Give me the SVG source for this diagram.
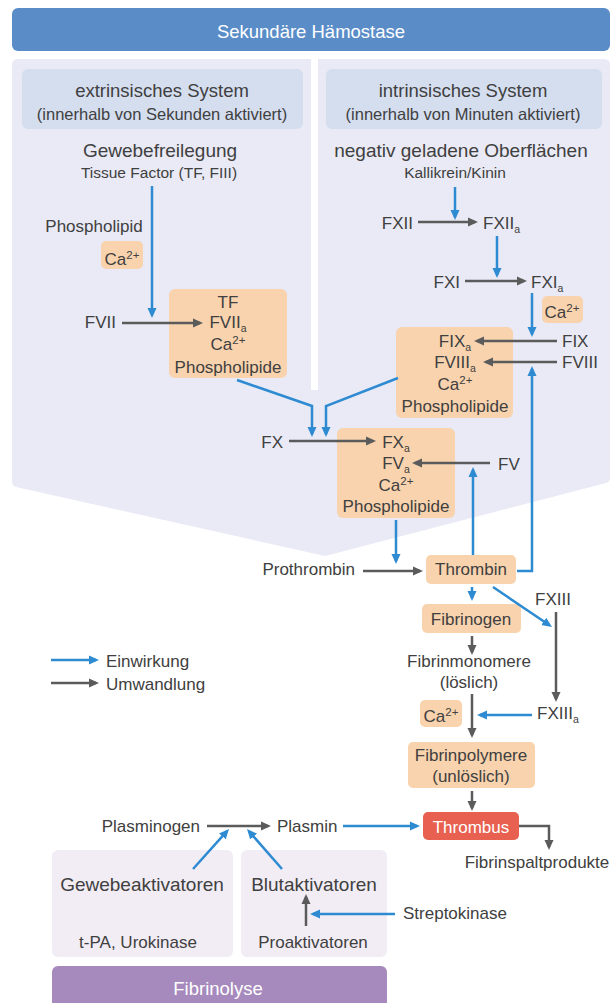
<svg xmlns="http://www.w3.org/2000/svg" width="613" height="1003" viewBox="0 0 613 1003">
<style>
.t{font-family:"Liberation Sans",Arial,sans-serif;fill:#404040;font-size:17px}
.m{text-anchor:middle}
.e{text-anchor:end}
.w{fill:#ffffff}
.sub{font-size:10.5px}
.sup{font-size:11.5px}
.big{font-size:19px}
.hd{font-size:18.5px}
.sm{font-size:15.5px}
.node{fill:#F9D3AE}
.hdr{fill:#D5DEEF}
.cb{fill:none;stroke:#2E8BD2;stroke-width:2.5;marker-end:url(#ab)}
.cg{fill:none;stroke:#5B5B5B;stroke-width:2.5;marker-end:url(#ag)}
</style>
<defs>
<marker id="ab" markerUnits="userSpaceOnUse" markerWidth="11" markerHeight="10" refX="7" refY="5" orient="auto"><path d="M0,0.5 L10,5 L0,9.5 z" fill="#2E8BD2"/></marker>
<marker id="ag" markerUnits="userSpaceOnUse" markerWidth="11" markerHeight="10" refX="7" refY="5" orient="auto"><path d="M0,0.5 L10,5 L0,9.5 z" fill="#5B5B5B"/></marker>
</defs>
<rect width="613" height="1003" fill="#ffffff"/>

<g id="banner">
<rect x="12" y="8" width="598" height="43" rx="6" fill="#5A8DC8"/>
<text class="t m hd w" x="311" y="38">Sekundäre Hämostase</text>
</g>

<g id="panels">
<path d="M18 59 H604 Q610 59 610 65 V478 Q610 482 606 483 L325 556 L16 487 Q12 486 12 481 V65 Q12 59 18 59 Z" fill="#E9EAF5"/>
<rect x="311" y="55" width="7" height="335" fill="#ffffff"/>
</g>

<g id="extrinsic-header">
<rect class="hdr" x="22" y="69" width="281" height="60" rx="6"/>
<text class="t m hd" x="162" y="97">extrinsisches System</text>
<text class="t m" x="162" y="120" style="font-size:16.5px">(innerhalb von Sekunden aktiviert)</text>
</g>
<g id="intrinsic-header">
<rect class="hdr" x="326" y="69" width="276" height="60" rx="6"/>
<text class="t m hd" x="463" y="97">intrinsisches System</text>
<text class="t m" x="463" y="120" style="font-size:16.5px">(innerhalb von Minuten aktiviert)</text>
</g>

<g id="gewebefreilegung">
<text class="t m big" x="160" y="157">Gewebefreilegung</text>
<text class="t m sm" x="159" y="178">Tissue Factor (TF, FIII)</text>
</g>
<g id="oberflaechen">
<text class="t m big" x="461" y="157">negativ geladene Oberflächen</text>
<text class="t m sm" x="455" y="178">Kallikrein/Kinin</text>
</g>

<g id="phospholipid"><text class="t m" x="94" y="232">Phospholipid</text></g>
<g id="ca-ext"><rect class="node" x="101" y="241" width="42" height="28" rx="5"/><text class="t m" x="122" y="265">Ca<tspan class="sup" dy="-6">2+</tspan></text></g>
<g id="fvii"><text class="t e" x="116" y="328">FVII</text></g>
<g id="tf-complex">
<rect class="node" x="169" y="289" width="118" height="89" rx="6"/>
<text class="t m" x="228" y="308">TF</text>
<text class="t m" x="228" y="328">FVII<tspan class="sub" dy="3.5">a</tspan></text>
<text class="t m" x="228" y="350">Ca<tspan class="sup" dy="-6">2+</tspan></text>
<text class="t m" x="228" y="373">Phospholipide</text>
</g>

<g id="fxii"><text class="t e" x="413" y="229">FXII</text></g>
<g id="fxiia"><text class="t" x="483" y="229">FXII<tspan class="sub" dy="3.5">a</tspan></text></g>
<g id="fxi"><text class="t e" x="460" y="288">FXI</text></g>
<g id="fxia"><text class="t" x="531" y="288">FXI<tspan class="sub" dy="3.5">a</tspan></text></g>
<g id="ca-int"><rect class="node" x="542" y="296" width="41" height="27" rx="5"/><text class="t m" x="562" y="318">Ca<tspan class="sup" dy="-6">2+</tspan></text></g>
<g id="fix"><text class="t" x="562" y="347">FIX</text></g>
<g id="fviii"><text class="t" x="562" y="368">FVIII</text></g>
<g id="fix-complex">
<rect class="node" x="396" y="327" width="117" height="91" rx="6"/>
<text class="t m" x="455" y="347">FIX<tspan class="sub" dy="3.5">a</tspan></text>
<text class="t m" x="455" y="368">FVIII<tspan class="sub" dy="3.5">a</tspan></text>
<text class="t m" x="455" y="390">Ca<tspan class="sup" dy="-6">2+</tspan></text>
<text class="t m" x="455" y="412">Phospholipide</text>
</g>

<g id="fx"><text class="t e" x="283" y="448">FX</text></g>
<g id="fv"><text class="t" x="498" y="470">FV</text></g>
<g id="fx-complex">
<rect class="node" x="337" y="428" width="118" height="90" rx="6"/>
<text class="t m" x="396" y="448">FX<tspan class="sub" dy="3.5">a</tspan></text>
<text class="t m" x="396" y="469">FV<tspan class="sub" dy="3.5">a</tspan></text>
<text class="t m" x="396" y="491">Ca<tspan class="sup" dy="-6">2+</tspan></text>
<text class="t m" x="396" y="512">Phospholipide</text>
</g>

<g id="prothrombin"><text class="t e" x="355" y="575">Prothrombin</text></g>
<g id="thrombin"><rect class="node" x="426" y="555" width="90" height="29" rx="5"/><text class="t m" x="471" y="575">Thrombin</text></g>
<g id="fxiii"><text class="t m" x="553" y="605">FXIII</text></g>
<g id="fibrinogen"><rect class="node" x="422" y="604" width="99" height="29" rx="5"/><text class="t m" x="471" y="625">Fibrinogen</text></g>
<g id="fibrinmonomere"><text class="t m" x="469" y="667">Fibrinmonomere</text><text class="t m" x="469" y="688">(löslich)</text></g>
<g id="ca-fib"><rect class="node" x="420" y="700" width="42" height="27" rx="5"/><text class="t m" x="441" y="722">Ca<tspan class="sup" dy="-6">2+</tspan></text></g>
<g id="fxiiia"><text class="t" x="537" y="719">FXIII<tspan class="sub" dy="3.5">a</tspan></text></g>
<g id="fibrinpolymere"><rect class="node" x="408" y="742" width="127" height="46" rx="5"/><text class="t m" x="471" y="761">Fibrinpolymere</text><text class="t m" x="471" y="782">(unlöslich)</text></g>
<g id="thrombus"><rect x="423" y="812" width="96" height="28" rx="5" fill="#E8604F"/><text class="t m w" x="471" y="833">Thrombus</text></g>
<g id="fibrinspaltprodukte"><text class="t m" x="537" y="868">Fibrinspaltprodukte</text></g>

<g id="plasminogen"><text class="t e" x="200" y="832">Plasminogen</text></g>
<g id="plasmin"><text class="t" x="277" y="832">Plasmin</text></g>
<g id="gewebeaktivatoren">
<rect x="52" y="850" width="181" height="107" rx="6" fill="#F2EDF5"/>
<text class="t m big" x="142" y="891">Gewebeaktivatoren</text>
<text class="t m" x="138" y="948">t-PA, Urokinase</text>
</g>
<g id="blutaktivatoren">
<rect x="241" y="850" width="146" height="107" rx="6" fill="#F2EDF5"/>
<text class="t m big" x="314" y="891">Blutaktivatoren</text>
<text class="t m" x="313" y="948">Proaktivatoren</text>
</g>
<g id="streptokinase"><text class="t" x="403" y="919">Streptokinase</text></g>
<g id="fibrinolyse">
<rect x="52" y="966" width="335" height="50" rx="6" fill="#A78ABD"/>
<text class="t m hd w" x="218" y="995">Fibrinolyse</text>
</g>

<g id="legend">
<path class="cb" d="M51,660 H96"/>
<path class="cg" d="M51,683 H96"/>
<text class="t" x="106" y="667">Einwirkung</text>
<text class="t" x="106" y="690">Umwandlung</text>
</g>

<g id="connectors">
<path class="cb" d="M152,186 V315"/>
<path class="cg" d="M122,323 H200"/>
<path class="cb" d="M455,187 V217"/>
<path class="cg" d="M418,222 H475"/>
<path class="cb" d="M497,236 V275"/>
<path class="cg" d="M465,281 H524"/>
<path class="cb" d="M532,293 V334"/>
<path class="cg" d="M557,341 H477"/>
<path class="cg" d="M557,362 H486"/>
<path class="cb" d="M517,571 H532 V369"/>
<path class="cb" d="M237,380 L312,406 V434"/>
<path class="cb" d="M398,378 L326,406 V434"/>
<path class="cg" d="M289,441 H373"/>
<path class="cg" d="M490,463 H415"/>
<path class="cb" d="M473,555 V470"/>
<path class="cb" d="M396,520 V561"/>
<path class="cg" d="M363,571 H420"/>
<path class="cb" d="M472,587 V598"/>
<path class="cb" d="M493,587 L549.5,625.3"/>
<path class="cg" d="M472,636 V652"/>
<path class="cg" d="M556,612 V699"/>
<path class="cb" d="M532,715 H480"/>
<path class="cg" d="M472,694 V735"/>
<path class="cg" d="M472,791 V808"/>
<path class="cg" d="M519,826 H549 V847"/>
<path class="cg" d="M207,826 H268"/>
<path class="cb" d="M343,826 H417"/>
<path class="cb" d="M193,869 L227,831.2"/>
<path class="cb" d="M282,869 L249,831.3"/>
<path class="cg" d="M306,926 V897"/>
<path class="cb" d="M395,914 H313"/>
</g>
</svg>
